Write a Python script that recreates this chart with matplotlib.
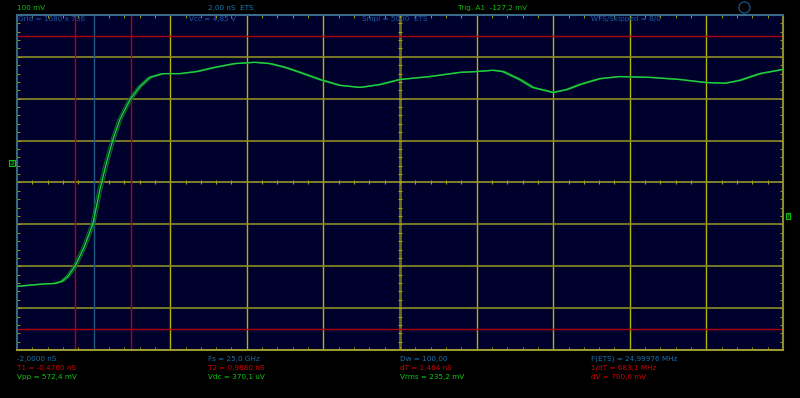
import numpy as np
import matplotlib
matplotlib.use('Agg')
import matplotlib.pyplot as plt
from matplotlib.lines import Line2D

# 波形数据 (时间 nS, 电压 mV)
t_ns = [-2.0, -1.4, -1.01, -0.825, -0.67, -0.486, -0.25, -0.016, 0.167, 0.324,
        0.507, 0.689, 0.95, 1.21, 1.47, 1.81, 2.26, 2.70, 3.17, 3.69,
        4.21, 4.61, 5.0, 5.39, 5.91, 6.43, 6.96, 7.48, 8.0, 8.78,
        9.57, 10.01, 10.43, 10.69, 11.13, 11.47, 12.0, 12.36, 12.70, 13.22,
        13.74, 14.53, 15.31, 15.96, 16.49, 16.88, 17.40, 18.0]
v_mv = [-296, -291, -289, -284, -272, -248, -203, -146, -64, -5,
        55, 103, 150, 181, 203, 212, 212, 217, 227, 236,
        239, 236, 227, 215, 198, 184, 179, 186, 198, 205,
        215, 217, 220, 217, 198, 179, 167, 174, 186, 200,
        205, 203, 198, 191, 189, 196, 212, 222]
persist_shift_ns = [-0.05, 0.05]

# 光标
T1, T2 = -0.476, 0.988
V1, V2 = 303, -397
offset_mv = 48

header = [('100 mV', 17, '#10c010'), ('2,00 nS  ETS', 208, '#1878b8'),
          ('Trig. A1  -127,2 mV', 458, '#10c010')]
inner = [('Grid = 1680 x 736', 18), ('Vcc = 4,85 V', 189),
         ('Smpl = 5000  ETS', 362), ('WFS/Skipped = 8/0', 591)]
footer = [
    ['-2,0000 nS', 'Fs = 25,0 GHz', 'Dw = 100,00', 'F(ETS) = 24,99976 MHz'],
    ['T1 = -0,4760 nS', 'T2 = 0,9880 nS', 'dT = 1,464 nS', '1/dT = 683,1 MHz'],
    ['Vpp = 572,4 mV', 'Vdc = 370,1 uV', 'Vrms = 235,2 mV', 'dV = 700,0 mV'],
]
footer_colors = [['#1870b0'] * 4, ['#d00000'] * 4,
                 ['#10c810', '#10c810', '#10c810', '#d00000']]
footer_x = [17, 208, 400, 591]

W, H = 800, 398
fig = plt.figure(figsize=(8, 3.98), dpi=100, facecolor='black')
ax = fig.add_axes([17 / W, (H - 350) / H, 766 / W, 335 / H])
ax.set_facecolor('#00002c')
ax.set_xlim(-2, 18)
ax.set_ylim(-400 - offset_mv, 400 - offset_mv)

yellow = '#b4b400'
for k in range(1, 10):
    x = -2 + 2 * k
    if x == 0:
        continue
    if x == 8:
        ax.axvline(x, color='#6e6e1c', lw=2, zorder=1)
    else:
        ax.axvline(x, color=yellow, lw=1, zorder=1)
for k in range(1, 8):
    y = -400 - offset_mv + 100 * k
    ax.axhline(y, color='#8c8c26' if k != 4 else '#96962a', lw=1.2, zorder=1)

# 中心轴刻度
minor_x = np.arange(-2, 18.01, 0.4)
minor_y = np.arange(-400 - offset_mv, 400 - offset_mv + 1, 20)
ax.plot(minor_x, np.full_like(minor_x, -48), ls='none', marker='|',
        ms=2.5, mew=0.8, color='#a0a020', zorder=1)
ax.plot(np.full_like(minor_y, 8.0), minor_y, ls='none', marker='_',
        ms=2.5, mew=0.8, color='#a0a020', zorder=1)

# 光标线
ax.axvline(0, color='#1e5a80', lw=1, zorder=2)
ax.axvline(T1, color='#b00010', lw=1, zorder=2)
ax.axvline(T2, color='#b00010', lw=1, zorder=2)
ax.axhline(V1, color='#b00010', lw=1, zorder=2)
ax.axhline(V2, color='#b00010', lw=1, zorder=2)

t = np.array(t_ns)
for s in persist_shift_ns:
    ax.plot(t + s, v_mv, color='#0c6a28', lw=0.8, zorder=3)
ax.plot(t, v_mv, color='#20d040', lw=1.0, zorder=4)

ax.set_xticks([])
ax.set_yticks([])
ax.set_xticks(np.arange(-2, 18.01, 0.4), minor=True)
ax.set_yticks(minor_y, minor=True)
ax.tick_params(which='minor', direction='in', length=2, color=yellow,
               top=True, right=True, bottom=True, left=True,
               labelbottom=False, labelleft=False)
ax.spines['top'].set_color('#3a6a8a')
ax.spines['left'].set_color('#3a6a7a')
ax.spines['right'].set_color('#8a8a30')
ax.spines['bottom'].set_color('#9a9a30')
for sp in ax.spines.values():
    sp.set_linewidth(1.5)

fs = 5.2
for txt, x, c in header:
    fig.text(x / W, 1 - 8 / H, txt, color=c, fontsize=fs, va='center')
for txt, x in inner:
    fig.text(x / W, 1 - 19 / H, txt, color='#1c5ca0', fontsize=fs, va='center')
for r, row in enumerate(footer):
    for c, txt in enumerate(row):
        fig.text(footer_x[c] / W, 1 - (359 + 9 * r) / H, txt,
                 color=footer_colors[r][c], fontsize=fs, va='center')

# 通道与触发标记
fig.text(12 / W, 1 - 163 / H, '2', color='#10c010', fontsize=4, ha='center',
         va='center', bbox=dict(boxstyle='square,pad=0.15', fc='#002000',
                                ec='#10c010', lw=0.8))
fig.text(788 / W, 1 - 216 / H, 'T', color='#10c010', fontsize=4, ha='center',
         va='center', bbox=dict(boxstyle='square,pad=0.15', fc='#002000',
                                ec='#10c010', lw=0.8))
fig.add_artist(Line2D([744 / W], [1 - 7 / H], marker='o', ms=8, mfc='none',
                      mec='#1c5ca0', mew=0.8, transform=fig.transFigure))

fig.savefig('out.png', dpi=100, facecolor='black')
